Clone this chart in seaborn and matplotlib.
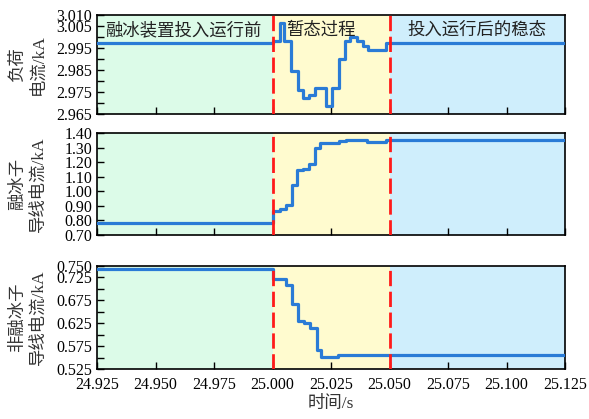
import numpy as np
import pandas as pd
import seaborn as sns
import matplotlib.pyplot as plt

# 数据 (阶梯曲线的转折点)
t_load = [24.925, 25.000, 25.003, 25.0047, 25.0081, 25.011, 25.0132, 25.0154, 25.018,
          25.0205, 25.023, 25.0256, 25.0282, 25.0308, 25.0333, 25.0359, 25.0385, 25.0406,
          25.0483, 25.125]
i_load = [2.9971, 2.998, 3.0064, 2.998, 2.9846, 2.9757, 2.9721, 2.9735, 2.977,
          2.9767, 2.9686, 2.977, 2.990, 2.9984, 3.0002, 2.998, 2.9957, 2.994,
          2.9971, 2.9971]

t_melt = [24.925, 25.000, 25.003, 25.0056, 25.0084, 25.0106, 25.0132, 25.0158, 25.018,
          25.0205, 25.0282, 25.0312, 25.0405, 25.0483, 25.125]
i_melt = [0.780, 0.867, 0.876, 0.906, 1.043, 1.146, 1.155, 1.187, 1.295,
          1.334, 1.343, 1.352, 1.340, 1.354, 1.354]

t_nonmelt = [24.925, 25.000, 25.0056, 25.0084, 25.0110, 25.0134, 25.0160, 25.0191,
             25.0209, 25.0278, 25.0312, 25.125]
i_nonmelt = [0.7435, 0.7216, 0.709, 0.667, 0.629, 0.625, 0.614, 0.567,
             0.552, 0.555, 0.556, 0.556]

stage_edges = [24.925, 25.000, 25.050, 25.125]
stage_colors = ['#dcfbe8', '#fffbcf', '#cfeefc']
stage_names = ['融冰装置投入运行前', '暂态过程', '投入运行后的稳态']
stage_text_x = [24.9617, 25.0205, 25.0875]

ylabels = ['负荷\n电流/kA', '融冰子\n导线电流/kA', '非融冰子\n导线电流/kA']
xticks = np.arange(24.925, 25.1251, 0.025)

sns.set_theme(style='ticks')
plt.rcParams['font.family'] = ['Liberation Serif', 'Noto Sans CJK SC']
plt.rcParams['axes.unicode_minus'] = False

fig = plt.figure(figsize=(5.89, 4.19), dpi=100)
# 三个子图的位置 (手动排版)
rects = [
    [0.1647, 0.7279, 0.7946, 0.2363],
    [0.1647, 0.4391, 0.7946, 0.2434],
    [0.1647, 0.1193, 0.7946, 0.2458],
]
axes = [fig.add_axes(r) for r in rects]

series = [(t_load, i_load), (t_melt, i_melt), (t_nonmelt, i_nonmelt)]
ylims = [(2.965, 3.010), (0.70, 1.40), (0.525, 0.750)]

for k, ax in enumerate(axes):
    for i in range(3):
        ax.axvspan(stage_edges[i], stage_edges[i + 1], color=stage_colors[i], lw=0, zorder=0)
    df = pd.DataFrame({'t': series[k][0], 'i': series[k][1]})
    sns.lineplot(data=df, x='t', y='i', ax=ax, color='#2a7bd6', lw=2.3,
                 drawstyle='steps-post', zorder=3)
    for xv in [25.000, 25.050]:
        ax.axvline(xv, color='#ff1a1a', lw=2, ls=(0, (5.5, 2)), zorder=4)
    ax.set_xlim(24.925, 25.125)
    ax.set_ylim(*ylims[k])
    ax.set_xticks(xticks)
    ax.tick_params(direction='in', length=5, width=1, labelsize=11.5, colors='black')
    ax.tick_params(axis='x', pad=6)
    ax.set_xlabel('')
    ax.set_ylabel('')
    for s in ax.spines.values():
        s.set_linewidth(1.2)
        s.set_color('black')
    if k < 2:
        ax.tick_params(labelbottom=False)

# 刻度标签 (部分刻度不标注)
yt0 = np.round(np.arange(2.965, 3.0101, 0.005), 3)
axes[0].set_yticks(yt0)
axes[0].set_yticklabels([f'{v:.3f}' if round(v * 1000) % 10 != 0 or v == 3.010 else ''
                         for v in yt0])
yt1 = np.round(np.arange(0.70, 1.401, 0.10), 2)
axes[1].set_yticks(yt1)
axes[1].set_yticklabels([f'{v:.2f}' for v in yt1])
yt2 = np.round(np.arange(0.525, 0.7501, 0.025), 3)
axes[2].set_yticks(yt2)
axes[2].set_yticklabels([f'{v:.3f}' if (round(v * 1000) % 50 != 0 or v == 0.750) else ''
                         for v in yt2])
axes[2].set_xticklabels([f'{v:.3f}' for v in xticks])
axes[2].set_xlabel('时间/s', fontsize=12.5, color='#333333', labelpad=2)

for i in range(3):
    axes[0].text(stage_text_x[i], 0.84, stage_names[i], transform=axes[0].get_xaxis_transform(),
                 ha='center', va='center', fontsize=12.5, color='#222222', zorder=5)

centers = [(15 + 114) / 2, (133 + 235) / 2, (266 + 369) / 2]
for k in range(3):
    fig.text(28 / 589, 1 - centers[k] / 419, ylabels[k], rotation=90, ha='center',
             va='center', multialignment='center', fontsize=12.5, color='#333333',
             linespacing=1.35)

fig.savefig('out.png', dpi=100)
